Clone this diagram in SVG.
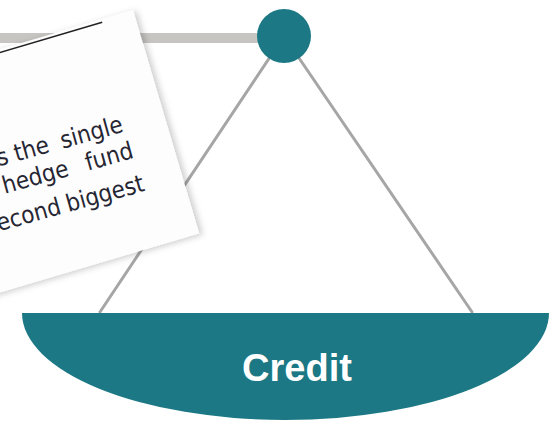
<svg xmlns="http://www.w3.org/2000/svg" width="552" height="423" viewBox="0 0 552 423">
<defs>
<style>
.teal{fill:#1b7884}
.rope{stroke:#a6a6a6;stroke-width:3;fill:none;stroke-linecap:round}
.note{font-family:"DejaVu Sans Condensed","DejaVu Sans","Liberation Sans",sans-serif;font-stretch:condensed;font-size:24px;fill:#262633}
.label{font-family:"Liberation Sans",Arial,sans-serif;font-weight:bold;font-size:38px;fill:#ffffff}
</style>
<filter id="shadow" x="-20%" y="-20%" width="140%" height="140%">
<feDropShadow dx="3" dy="2" stdDeviation="3" flood-color="#000" flood-opacity="0.2"/>
</filter>
</defs>
<rect width="552" height="423" fill="#ffffff"/>
<g id="beam">
<rect x="0" y="33" width="284" height="10" fill="#c6c5c1"/>
</g>
<g id="connectors">
<line class="rope" x1="284" y1="36" x2="100" y2="312"/>
<line class="rope" x1="284" y1="36" x2="472" y2="312"/>
</g>
<g id="pivot">
<circle class="teal" cx="284" cy="36" r="27"/>
</g>
<g id="pan">
<path class="teal" d="M22,313 L549,313 A263.5,107 0 0 1 22,313 Z"/>
<text class="label" x="297" y="381" text-anchor="middle">Credit</text>
</g>
<g id="note">
<g transform="translate(133,10) rotate(-16.5)">
<rect x="-320" y="0" width="320" height="233" fill="#fdfdfd" filter="url(#shadow)"/>
<line x1="-320" y1="3" x2="-33" y2="3" stroke="#222" stroke-width="1.6"/>
</g>
<text class="note" transform="translate(0,166) rotate(-15.5)"><tspan x="-1">s</tspan><tspan x="17">the</tspan><tspan x="65">single</tspan></text>
<text class="note" transform="translate(0,195) rotate(-15.5)"><tspan x="5">hedge</tspan><tspan x="91">fund</tspan></text>
<text class="note" transform="translate(0,231) rotate(-15.5)"><tspan x="-1">econd</tspan><tspan x="71">biggest</tspan></text>
</g>
</svg>
